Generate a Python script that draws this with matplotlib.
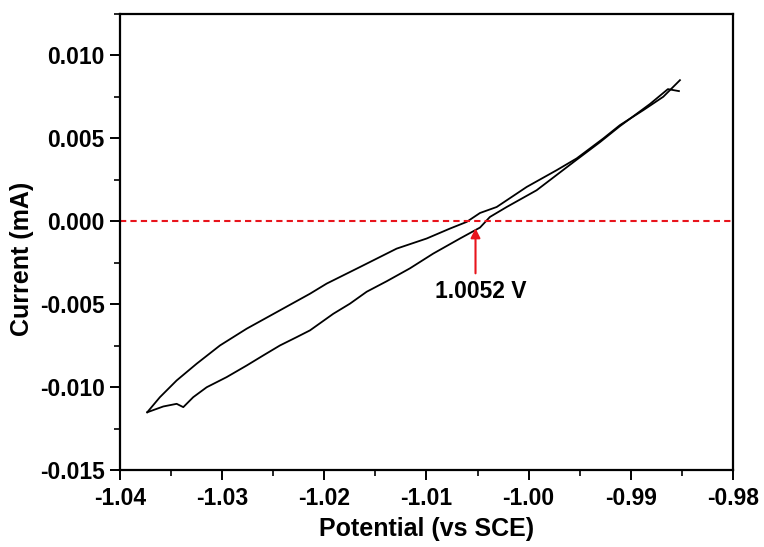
import matplotlib
matplotlib.use('Agg')
import matplotlib.pyplot as plt
from matplotlib.ticker import MultipleLocator

plt.rcParams['font.family'] = ['Liberation Sans', 'DejaVu Sans']
plt.rcParams['font.weight'] = 'bold'

# forward scan (upper branch), V vs mA
fwd_x = [-1.03733, -1.03609, -1.03445, -1.03249, -1.03021, -1.02760, -1.02466, -1.02140,
         -1.01977, -1.01651, -1.01292, -1.00998, -1.00770, -1.00607, -1.00476, -1.00313,
         -1.00019, -0.99726, -0.99530, -0.99270, -0.99106, -0.98878, -0.98682, -0.98519]
fwd_y = [-0.01152, -0.01061, -0.00960, -0.00859, -0.00749, -0.00648, -0.00548, -0.00437,
         -0.00376, -0.00276, -0.00165, -0.00104, -0.00044, -0.00004, 0.00050, 0.00086,
         0.00207, 0.00308, 0.00379, 0.00499, 0.00580, 0.00670, 0.00751, 0.00851]

# reverse scan (lower branch)
rev_x = [-0.98529, -0.98637, -0.98813, -0.99106, -0.99302, -0.99537, -0.99922, -1.00215,
         -1.00379, -1.00476, -1.00672, -1.00934, -1.01162, -1.01390, -1.01585, -1.01749,
         -1.01912, -1.02140, -1.02271, -1.02434, -1.02597, -1.02760, -1.02956, -1.03151,
         -1.03283, -1.03380, -1.03445, -1.03576, -1.03733]
rev_y = [0.00785, 0.00797, 0.00707, 0.00574, 0.00477, 0.00368, 0.00187, 0.00086,
         0.00026, -0.00038, -0.00104, -0.00195, -0.00284, -0.00362, -0.00425, -0.00497,
         -0.00558, -0.00658, -0.00699, -0.00749, -0.00809, -0.00870, -0.00940, -0.01001,
         -0.01061, -0.01121, -0.01101, -0.01117, -0.01152]

ocp = -1.0052
ocp_label = '1.0052 V'

fig = plt.figure(figsize=(7.64, 5.47), dpi=100)
ax = fig.add_axes([0.157, 0.1408, 0.8024, 0.8336])

ax.plot(fwd_x, fwd_y, color='black', lw=1.3)
ax.plot(rev_x, rev_y, color='black', lw=1.3)
ax.axhline(0, color='#e8141c', lw=1.5, linestyle=(0, (3, 2)))

ax.annotate('', xy=(ocp, -0.00042), xytext=(ocp, -0.00314),
            arrowprops=dict(arrowstyle='-|>', color='#e8141c', lw=1.5,
                            mutation_scale=14, shrinkA=0, shrinkB=0))
ax.text(-1.00467, -0.00422, ocp_label, ha='center', va='center', fontsize=16.5, fontweight='bold')

ax.set_xlim(-1.04, -0.98)
ax.set_ylim(-0.015, 0.0125)
ax.xaxis.set_major_locator(MultipleLocator(0.01))
ax.xaxis.set_minor_locator(MultipleLocator(0.005))
ax.yaxis.set_major_locator(MultipleLocator(0.005))
ax.yaxis.set_minor_locator(MultipleLocator(0.0025))
ax.xaxis.set_major_formatter(plt.FuncFormatter(lambda v, p: f'{v:.2f}'))
ax.yaxis.set_major_formatter(plt.FuncFormatter(lambda v, p: f'{v:.3f}'))

for s in ax.spines.values():
    s.set_linewidth(1.6)
ax.tick_params(which='major', direction='out', length=7, width=1.4, labelsize=16.5, pad=4)
ax.tick_params(axis='x', which='major', pad=5.5)
ax.tick_params(which='minor', direction='out', length=4, width=1.2)
for lab in ax.get_xticklabels() + ax.get_yticklabels():
    lab.set_fontweight('bold')

ax.set_xlabel('Potential (vs SCE)', fontsize=18, fontweight='bold')
ax.set_ylabel('Current (mA)', fontsize=18, fontweight='bold')
ax.xaxis.set_label_coords(0.5, -0.104)
ax.yaxis.set_label_coords(-0.141, 0.463)

fig.savefig('out.png', dpi=100)
